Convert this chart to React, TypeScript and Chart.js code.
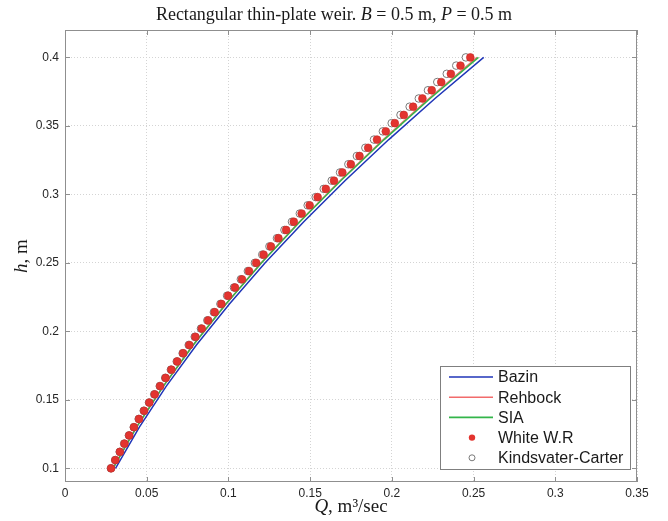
import React, { useEffect, useRef } from "react";
import { Chart, registerables } from "chart.js";

Chart.register(...registerables);

// ---- data ----
const H_MARK = [
  0.1, 0.106, 0.112, 0.118, 0.124, 0.13, 0.136, 0.142, 0.148, 0.154,
  0.16, 0.166, 0.172, 0.178, 0.184, 0.19, 0.196, 0.202, 0.208, 0.214,
  0.22, 0.226, 0.232, 0.238, 0.244, 0.25, 0.256, 0.262, 0.268, 0.274,
  0.28, 0.286, 0.292, 0.298, 0.304, 0.31, 0.316, 0.322, 0.328, 0.334,
  0.34, 0.346, 0.352, 0.358, 0.364, 0.37, 0.376, 0.382, 0.388, 0.394, 0.4,
];
const WHITE_Q = [
  0.0282, 0.0308, 0.0336, 0.0364, 0.0393, 0.0422, 0.0453, 0.0484, 0.0516, 0.0549,
  0.0582, 0.0616, 0.0651, 0.0687, 0.0723, 0.0761, 0.0798, 0.0837, 0.0876, 0.0916,
  0.0957, 0.0998, 0.104, 0.1083, 0.1126, 0.117, 0.1215, 0.126, 0.1306, 0.1353,
  0.14, 0.1448, 0.1497, 0.1546, 0.1596, 0.1646, 0.1697, 0.1749, 0.1802, 0.1855,
  0.1909, 0.1963, 0.2018, 0.2073, 0.213, 0.2187, 0.2244, 0.2302, 0.2361, 0.242, 0.248,
];
const KC_Q = [
  0.0281, 0.0307, 0.0335, 0.0362, 0.0391, 0.0421, 0.0451, 0.0482, 0.0514, 0.0546,
  0.058, 0.0613, 0.0648, 0.0684, 0.072, 0.0757, 0.0794, 0.0832, 0.0871, 0.0911,
  0.0951, 0.0992, 0.1034, 0.1076, 0.1119, 0.1162, 0.1207, 0.1251, 0.1297, 0.1343,
  0.1389, 0.1437, 0.1485, 0.1534, 0.1583, 0.1632, 0.1683, 0.1734, 0.1786, 0.1838,
  0.1891, 0.1945, 0.1999, 0.2053, 0.2109, 0.2165, 0.2221, 0.2278, 0.2336, 0.2394, 0.2453,
];
const H_LINE = [0.1, 0.13, 0.16, 0.19, 0.22, 0.25, 0.28, 0.31, 0.34, 0.37, 0.4];
const BAZIN_Q = [0.0309, 0.0455, 0.062, 0.0804, 0.1006, 0.1225, 0.1461, 0.1713, 0.1981, 0.2264, 0.2562];
const REHBOCK_Q = [0.0293, 0.0437, 0.0602, 0.0784, 0.0985, 0.1201, 0.1435, 0.1683, 0.1948, 0.2227, 0.2521];
const SIA_Q = [0.0294, 0.0438, 0.0602, 0.0785, 0.0985, 0.1203, 0.1437, 0.1687, 0.1953, 0.2234, 0.253];

const X_TICKS = [0, 0.05, 0.1, 0.15, 0.2, 0.25, 0.3, 0.35];
const Y_TICKS = [0.1, 0.15, 0.2, 0.25, 0.3, 0.35, 0.4];
const X_MIN = 0, X_MAX = 0.35, Y_MIN = 0.09, Y_MAX = 0.42;

const TITLE_PARTS: [string, boolean][] = [
  ["Rectangular thin-plate weir. ", false],
  ["B", true],
  [" = 0.5 m, ", false],
  ["P", true],
  [" = 0.5 m", false],
];
const XLABEL_PARTS: [string, boolean][] = [["Q", true], [", m\u00B3/sec", false]];
const YLABEL_PARTS: [string, boolean][] = [["h", true], [", m", false]];

const LEGEND_ITEMS = [
  { label: "Bazin", kind: "line", color: "#1f35b8" },
  { label: "Rehbock", kind: "line", color: "#f26b6b" },
  { label: "SIA", kind: "line", color: "#33b54a" },
  { label: "White W.R", kind: "dot", color: "#e3342f" },
  { label: "Kindsvater-Carter", kind: "ring", color: "#7a7a7a" },
];

const SERIF = "'Liberation Serif', 'Times New Roman', serif";
const SANS = "'Liberation Sans', Arial, sans-serif";

function drawRich(ctx: CanvasRenderingContext2D, parts: [string, boolean][], cx: number, cy: number, size: number) {
  let total = 0;
  const widths = parts.map(([t, it]) => {
    ctx.font = `${it ? "italic " : ""}${size}px ${SERIF}`;
    const w = ctx.measureText(t).width;
    total += w;
    return w;
  });
  let x = cx - total / 2;
  ctx.textBaseline = "middle";
  ctx.textAlign = "left";
  parts.forEach(([t, it], i) => {
    ctx.font = `${it ? "italic " : ""}${size}px ${SERIF}`;
    ctx.fillText(t, x, cy);
    x += widths[i];
  });
}

const decorPlugin = {
  id: "decor",
  afterDraw(chart: any) {
    const { ctx, chartArea: a, scales } = chart;
    ctx.save();
    // frame
    ctx.strokeStyle = "#8f8f8f";
    ctx.lineWidth = 1;
    ctx.setLineDash([]);
    ctx.strokeRect(a.left + 0.5, a.top + 0.5, a.right - a.left - 1, a.bottom - a.top - 1);
    // inward ticks
    const tl = 5;
    ctx.beginPath();
    X_TICKS.forEach((v) => {
      const x = Math.round(scales.x.getPixelForValue(v)) + 0.5;
      ctx.moveTo(x, a.bottom);
      ctx.lineTo(x, a.bottom - tl);
      ctx.moveTo(x, a.top);
      ctx.lineTo(x, a.top + tl);
    });
    Y_TICKS.forEach((v) => {
      const y = Math.round(scales.y.getPixelForValue(v)) + 0.5;
      ctx.moveTo(a.left, y);
      ctx.lineTo(a.left + tl, y);
      ctx.moveTo(a.right, y);
      ctx.lineTo(a.right - tl, y);
    });
    ctx.stroke();

    // title and axis labels
    ctx.fillStyle = "#1a1a1a";
    drawRich(ctx, TITLE_PARTS, 334, 15, 18);
    drawRich(ctx, XLABEL_PARTS, (a.left + a.right) / 2, 507, 19);
    ctx.save();
    ctx.translate(22, (a.top + a.bottom) / 2);
    ctx.rotate(-Math.PI / 2);
    drawRich(ctx, YLABEL_PARTS, 0, 0, 19);
    ctx.restore();

    // legend
    const lx = 440, ly = 366, lw = 190, lh = 103;
    ctx.fillStyle = "#ffffff";
    ctx.fillRect(lx, ly, lw, lh);
    ctx.strokeStyle = "#7f7f7f";
    ctx.strokeRect(lx + 0.5, ly + 0.5, lw, lh);
    ctx.font = `16px ${SANS}`;
    ctx.textBaseline = "middle";
    ctx.textAlign = "left";
    LEGEND_ITEMS.forEach((it, i) => {
      const y = ly + 11 + i * 20.2;
      if (it.kind === "line") {
        ctx.strokeStyle = it.color;
        ctx.lineWidth = 1.6;
        ctx.beginPath();
        ctx.moveTo(lx + 9, y);
        ctx.lineTo(lx + 53, y);
        ctx.stroke();
      } else if (it.kind === "dot") {
        ctx.fillStyle = it.color;
        ctx.beginPath();
        ctx.arc(lx + 32, y, 3.2, 0, Math.PI * 2);
        ctx.fill();
      } else {
        ctx.strokeStyle = it.color;
        ctx.lineWidth = 1;
        ctx.beginPath();
        ctx.arc(lx + 32, y, 3, 0, Math.PI * 2);
        ctx.stroke();
      }
      ctx.fillStyle = "#1a1a1a";
      ctx.fillText(it.label, lx + 58, y + 1);
    });
    ctx.restore();
  },
};

export default function App() {
  const ref = useRef<HTMLCanvasElement | null>(null);
  useEffect(() => {
    if (!ref.current) return;
    const toPts = (xs: number[], ys: number[]) => xs.map((x, i) => ({ x, y: ys[i] }));
    const chart = new Chart(ref.current, {
      type: "scatter",
      data: {
        datasets: [
          {
            label: "White W.R",
            data: toPts(WHITE_Q, H_MARK),
            pointRadius: 3.9,
            pointBackgroundColor: "#e3342f",
            pointBorderColor: "#c42a26",
            pointBorderWidth: 0.6,
            showLine: false,
            order: 0,
          },
          {
            label: "Kindsvater-Carter",
            data: toPts(KC_Q, H_MARK),
            pointRadius: 3.8,
            pointBackgroundColor: "#ffffff",
            pointBorderColor: "#7a7a7a",
            pointBorderWidth: 1,
            showLine: false,
            order: 1,
          },
          {
            label: "SIA",
            data: toPts(SIA_Q, H_LINE),
            showLine: true,
            borderColor: "#33b54a",
            borderWidth: 1.5,
            pointRadius: 0,
            fill: false,
            order: 2,
          },
          {
            label: "Rehbock",
            data: toPts(REHBOCK_Q, H_LINE),
            showLine: true,
            borderColor: "#f26b6b",
            borderWidth: 1.5,
            pointRadius: 0,
            fill: false,
            order: 3,
          },
          {
            label: "Bazin",
            data: toPts(BAZIN_Q, H_LINE),
            showLine: true,
            borderColor: "#1f35b8",
            borderWidth: 1.5,
            pointRadius: 0,
            fill: false,
            order: 4,
          },
        ],
      },
      options: {
        animation: false,
        responsive: false,
        events: [],
        layout: { padding: { top: 30, right: 31, left: 0, bottom: 0 } },
        plugins: { legend: { display: false }, tooltip: { enabled: false }, title: { display: false } },
        scales: {
          x: {
            type: "linear",
            min: X_MIN,
            max: X_MAX,
            afterFit: (s: any) => { s.height = 39; },
            afterBuildTicks: (s: any) => { s.ticks = X_TICKS.map((v) => ({ value: v })); },
            ticks: {
              autoSkip: false,
              maxRotation: 0,
              padding: 4,
              color: "#262626",
              font: { family: SANS, size: 12 },
              callback: (v: any) => String(v),
            },
            grid: { color: "#d4d4d4", drawTicks: false, lineWidth: 1 },
            border: { display: false, dash: [1, 2] },
          },
          y: {
            type: "linear",
            min: Y_MIN,
            max: Y_MAX,
            afterFit: (s: any) => { s.width = 65; },
            afterBuildTicks: (s: any) => { s.ticks = Y_TICKS.map((v) => ({ value: v })); },
            ticks: {
              autoSkip: false,
              padding: 6,
              color: "#262626",
              font: { family: SANS, size: 12 },
              callback: (v: any) => String(v),
            },
            grid: { color: "#d4d4d4", drawTicks: false, lineWidth: 1 },
            border: { display: false, dash: [1, 2] },
          },
        },
      },
      plugins: [decorPlugin],
    } as any);
    return () => chart.destroy();
  }, []);
  return (
    <div style={{ position: "absolute", left: 0, top: 0, width: 668, height: 521, background: "#fff" }}>
      <canvas ref={ref} width={668} height={521} style={{ display: "block" }} />
    </div>
  );
}
